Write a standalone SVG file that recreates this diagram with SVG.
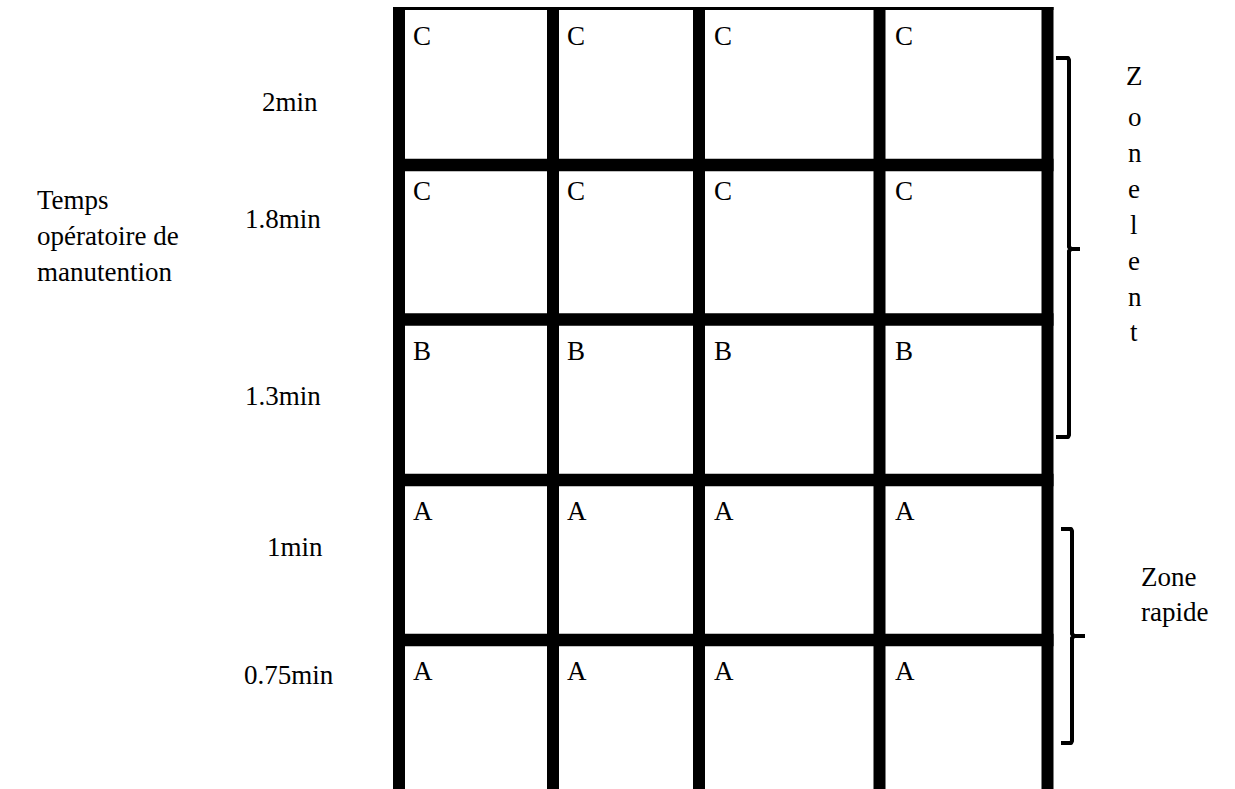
<svg xmlns="http://www.w3.org/2000/svg" width="1235" height="789" viewBox="0 0 1235 789">
<style>
text{font-family:'Liberation Serif','Times New Roman',Times,Tinos,'Noto Serif','DejaVu Serif',FreeSerif,serif;fill:#000;font-size:27px}
.v{stroke:#000;stroke-width:12}
.h{stroke:#000;stroke-width:12.5}
.br{fill:none;stroke:#000;stroke-width:4;stroke-linejoin:round}
</style>
<rect width="1235" height="789" fill="#fff"/>
<g id="grid">
<line x1="393" y1="8.5" x2="1053.5" y2="8.5" stroke="#000" stroke-width="3"/>
<line class="h" x1="393" y1="165" x2="1053.5" y2="165"/>
<line class="h" x1="393" y1="319.5" x2="1053.5" y2="319.5"/>
<line class="h" x1="393" y1="480" x2="1053.5" y2="480"/>
<line class="h" x1="393" y1="640" x2="1053.5" y2="640"/>
<line class="v" x1="399" y1="7" x2="399" y2="789"/>
<line class="v" x1="553" y1="7" x2="553" y2="789"/>
<line class="v" x1="699" y1="7" x2="699" y2="789"/>
<line class="v" x1="879.5" y1="7" x2="879.5" y2="789"/>
<line class="v" x1="1047.5" y1="7" x2="1047.5" y2="789"/>
</g>
<g id="cells">
<text x="413" y="45">C</text><text x="567" y="45">C</text><text x="714" y="45">C</text><text x="895" y="45">C</text>
<text x="413" y="200">C</text><text x="567" y="200">C</text><text x="714" y="200">C</text><text x="895" y="200">C</text>
<text x="413" y="360">B</text><text x="567" y="360">B</text><text x="714" y="360">B</text><text x="895" y="360">B</text>
<text x="413" y="520">A</text><text x="567" y="520">A</text><text x="714" y="520">A</text><text x="895" y="520">A</text>
<text x="413" y="680">A</text><text x="567" y="680">A</text><text x="714" y="680">A</text><text x="895" y="680">A</text>
</g>
<g id="axis-title">
<text x="37" y="209" font-size="28.5">Temps</text>
<text x="37" y="245" font-size="28.5">opératoire de</text>
<text x="37" y="281" font-size="28.5">manutention</text>
</g>
<g id="times">
<text x="262" y="111" font-size="26">2min</text>
<text x="245" y="228" font-size="26">1.8min</text>
<text x="245" y="405" font-size="26">1.3min</text>
<text x="267" y="556" font-size="26">1min</text>
<text x="244" y="684" font-size="26">0.75min</text>
</g>
<g id="connectors">
<path class="br" d="M1056,58 L1068,58 L1069,60 L1069,247 L1071,249 L1080,249 M1071,249 L1069,251 L1069,435 L1068,437 L1056,437"/>
<path class="br" d="M1061,529 L1071,529 L1072,531 L1072,634 L1074,636 L1085,636 M1074,636 L1072,638 L1072,741 L1071,743 L1061,743"/>
</g>
<g id="zone-lent">
<text x="1126" y="85" font-size="30">Z</text>
<text x="1128" y="126" font-size="30">o</text>
<text x="1128" y="162" font-size="30">n</text>
<text x="1128" y="198" font-size="30">e</text>
<text x="1130" y="234" font-size="30">l</text>
<text x="1128" y="270" font-size="30">e</text>
<text x="1128" y="306" font-size="30">n</text>
<text x="1130" y="341" font-size="30">t</text>
</g>
<g id="zone-rapide">
<text x="1141" y="586" font-size="24.5">Zone</text>
<text x="1141" y="621" font-size="24.5">rapide</text>
</g>
</svg>
